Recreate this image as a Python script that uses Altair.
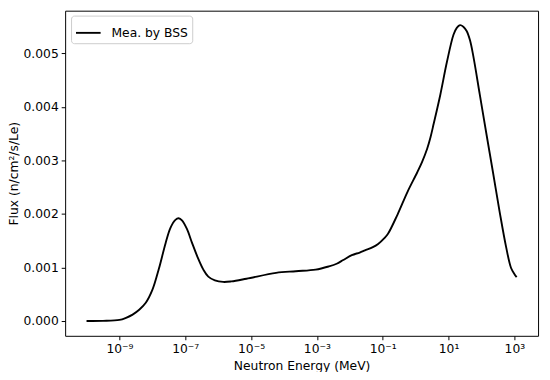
import altair as alt
import pandas as pd

log10_energy = [-10.0, -9.5, -9.0, -8.8, -8.6, -8.4, -8.2, -8.0, -7.8, -7.6, -7.45, -7.3,
                -7.2, -7.1, -6.95, -6.8, -6.63, -6.45, -6.3, -6.1, -5.85, -5.6,
                -5.14, -4.24, -3.64, -3.04, -2.64, -2.4, -2.2, -1.94, -1.7, -1.54, -1.3,
                -1.14, -0.95, -0.84, -0.55, -0.25, 0.05, 0.2, 0.35, 0.45, 0.55, 0.75,
                0.95, 1.15, 1.25, 1.35, 1.45, 1.55, 1.65, 1.75, 1.95, 2.15, 2.35, 2.55,
                2.75, 2.9, 3.0, 3.07]
flux = [0.0, 0.000002, 0.00002, 0.00006, 0.00012, 0.00021, 0.00034, 0.00058, 0.00098, 0.00145,
        0.00174, 0.00189, 0.00192, 0.00188, 0.00172, 0.00147, 0.0012, 0.00096, 0.00083, 0.00076,
        0.00073, 0.00074,
        0.00079, 0.0009, 0.00093, 0.00096, 0.00102, 0.00107, 0.00114, 0.00123, 0.00128, 0.00132,
        0.00138, 0.00144, 0.00155, 0.00163, 0.00199, 0.00241, 0.00278, 0.00298, 0.00322, 0.00343,
        0.00369, 0.00423,
        0.00484, 0.00535, 0.00548, 0.00553, 0.0055, 0.00542, 0.00525, 0.00496, 0.00423, 0.0035,
        0.00278, 0.00205, 0.00138, 0.00099, 0.00088, 0.00082]
series_name = "Mea. by BSS"

x_tick_exponents = [-9, -7, -5, -3, -1, 1, 3]
x_tick_labels = ["10\u207b\u2079", "10\u207b\u2077", "10\u207b\u2075", "10\u207b\u00b3",
                 "10\u207b\u00b9", "10\u00b9", "10\u00b3"]
y_ticks = [0.0, 0.001, 0.002, 0.003, 0.004, 0.005]

df = pd.DataFrame({
    "energy": [10 ** v for v in log10_energy],
    "flux": flux,
    "series": [series_name] * len(flux),
})

label_expr = "''"
for e, lab in zip(reversed(x_tick_exponents), reversed(x_tick_labels)):
    label_expr = f"round(log(datum.value)/LN10) == {e} ? '{lab}' : ({label_expr})"

FONT = "DejaVu Sans"

chart = alt.Chart(df).mark_line(strokeWidth=1.9, interpolate="catmull-rom").encode(
    x=alt.X("energy:Q",
            scale=alt.Scale(type="log", domain=[10 ** -10.65, 10 ** 3.72], nice=False),
            axis=alt.Axis(values=[10.0 ** e for e in x_tick_exponents], labelExpr=label_expr,
                          title="Neutron Energy (MeV)", grid=False, tickSize=4,
                          labelPadding=3, titlePadding=5, labelFlush=False)),
    y=alt.Y("flux:Q",
            scale=alt.Scale(domain=[-0.000277, 0.0058], nice=False, zero=False),
            axis=alt.Axis(values=y_ticks, format=".3f", title="Flux (n/cm\u00b2/s/Le)",
                          grid=False, tickSize=4, labelPadding=3, titlePadding=3)),
    color=alt.Color("series:N", scale=alt.Scale(range=["black"]),
                    legend=alt.Legend(title=None, orient="none", legendX=6, legendY=5,
                                      symbolType="stroke", symbolSize=625,
                                      symbolStrokeWidth=1.9, labelOffset=10,
                                      labelFontSize=12.5, labelFont=FONT, labelColor="black",
                                      padding=4, fillColor="white", strokeColor="#cccccc",
                                      cornerRadius=3)),
).properties(
    width=480, height=330,
    autosize=alt.AutoSizeParams(type="none"),
    padding={"left": 58, "top": 0, "right": 4, "bottom": 34},
).configure_view(
    stroke="black", strokeWidth=1
).configure_axis(
    domain=False, labelFont=FONT, titleFont=FONT, labelFontSize=12.5, titleFontSize=12.5,
    labelColor="black", titleColor="black", tickColor="black", titleFontWeight="normal",
    tickWidth=1
)

chart.save("out.html", embed_options={"renderer": "svg", "actions": False})
